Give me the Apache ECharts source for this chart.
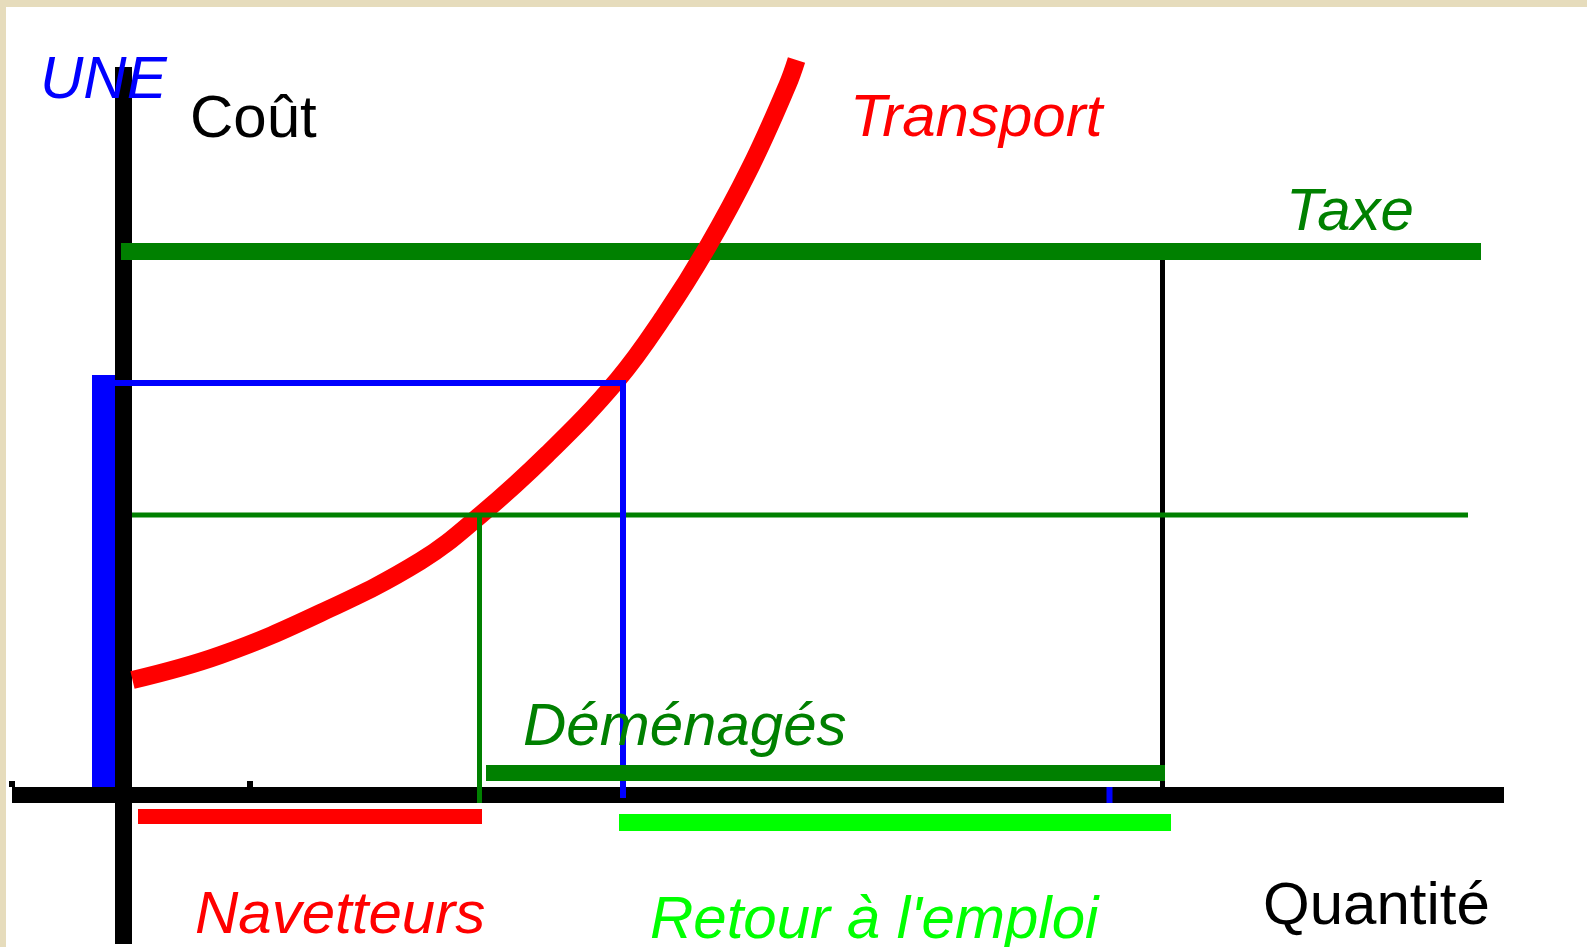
<!DOCTYPE html>
<html>
<head>
<meta charset="utf-8">
<script src="https://cdn.jsdelivr.net/npm/echarts@6/dist/echarts.min.js"></script>
<style>
  html, body { margin: 0; padding: 0; background: #e6dcbc; }
  #chart { width: 1587px; height: 947px; }
</style>
</head>
<body>
<div id="chart"></div>
<script>
// unités du schéma : origine = croisement des axes, 1 unité = 10 px
// courbe du coût de transport (quantité, coût)
const transport = [
  [0.9, 11.5], [9.7, 14.0], [19.7, 18.2], [29.7, 23.4], [35.7, 28.0],
  [42.4, 34.1], [49.4, 41.5], [54.0, 47.8], [58.4, 54.8], [62.7, 62.8],
  [66.4, 71.0], [67.3, 73.5]
]
// niveaux
const taxeLevel = 54.35        // ligne Taxe
const navetteLevel = 28.0      // seuil des navetteurs
const uneLevel = 41.2          // niveau UNE (rectangle bleu)
// quantités
const qNavette = 35.6
const qUne = 49.95
const qTaxe = 103.9
// segments [début, fin]
const axeX = [[-11.15, 0], [138.05, 0]]
const axeY = [[0, 72.8], [0, -14.9]]
const taxe = [[-0.25, taxeLevel], [135.75, taxeLevel]]
const seuilNavette = [[0.85, navetteLevel], [134.45, navetteLevel]]
const verticaleNavette = [[qNavette, navetteLevel], [qNavette, -0.8]]
const verticaleTaxe = [[qTaxe, taxeLevel - 0.8], [qTaxe, 0.8]]
const uneHoriz = [[-0.85, uneLevel], [50.25, uneLevel]]
const uneVert = [[qUne, uneLevel + 0.3], [qUne, -0.3]]
const uneBarre = [[-2.0, 42.0], [-2.0, 0.8]]
const demenages = [[36.25, 2.2], [104.15, 2.2]]
const navetteurs = [[1.45, -2.15], [35.85, -2.15]]
const retourEmploi = [[49.55, -2.75], [104.75, -2.75]]
const petitsTraits = [
  [[12.65, 1.4], [12.65, 0.8]],
  [[-11.15, 1.4], [-11.15, 0.8]]
]
const repereBleu = [[98.6, 0.8], [98.6, -0.8]]

const textes = [
  { t: 'UNE', x: 40, y: 81, c: '#0000ff', it: true },
  { t: 'Coût', x: 190, y: 120, c: '#000000', it: false },
  { t: 'Transport', x: 850, y: 119, c: '#ff0000', it: true },
  { t: 'Taxe', x: 1286, y: 213, c: '#008000', it: true },
  { t: 'Déménagés', x: 523, y: 728, c: '#008000', it: true },
  { t: 'Navetteurs', x: 195, y: 916, c: '#ff0000', it: true },
  { t: "Retour à l'emploi", x: 650, y: 921, c: '#00ff00', it: true },
  { t: 'Quantité', x: 1263, y: 907, c: '#000000', it: false }
]

function seg(name, data, color, width) {
  return {
    name: name,
    type: 'line',
    data: data,
    symbol: 'none',
    silent: true,
    lineStyle: { color: color, width: width, cap: 'butt' }
  }
}

const charts = echarts.init(document.getElementById('chart'))
const option = {
  animation: false,
  backgroundColor: '#e6dcbc',
  grid: {
    show: true,
    backgroundColor: '#ffffff',
    borderWidth: 0,
    left: 6, top: 7, right: 0, bottom: 0
  },
  xAxis: { type: 'value', min: -11.75, max: 146.35, show: false },
  yAxis: { type: 'value', min: -15.2, max: 78.8, show: false },
  series: [
    seg('axeX', axeX, '#000000', 16),
    seg('axeY', axeY, '#000000', 17),
    seg('petit1', petitsTraits[0], '#000000', 6),
    seg('petit2', petitsTraits[1], '#000000', 6),
    seg('verticaleTaxe', verticaleTaxe, '#000000', 5),
    seg('taxe', taxe, '#008000', 17),
    {
      name: 'Transport',
      type: 'line',
      data: transport,
      smooth: 0.4,
      symbol: 'none',
      silent: true,
      lineStyle: { color: '#ff0000', width: 18, cap: 'butt' }
    },
    seg('seuilNavette', seuilNavette, '#008000', 5),
    seg('verticaleNavette', verticaleNavette, '#008000', 5),
    seg('uneHoriz', uneHoriz, '#0000ff', 6),
    seg('uneVert', uneVert, '#0000ff', 6),
    seg('uneBarre', uneBarre, '#0000ff', 23),
    seg('repereBleu', repereBleu, '#0000ff', 6),
    seg('demenages', demenages, '#008000', 16),
    seg('navetteurs', navetteurs, '#ff0000', 15),
    seg('retourEmploi', retourEmploi, '#00ff00', 17)
  ],
  graphic: textes.map(function (d) {
    return {
      type: 'text',
      x: d.x,
      y: d.y,
      z: 100,
      style: {
        text: d.t,
        fill: d.c,
        fontSize: 60,
        fontFamily: '"Liberation Sans", Arial, sans-serif',
        fontStyle: d.it ? 'italic' : 'normal',
        verticalAlign: 'middle',
        align: 'left'
      }
    }
  })
}
charts.setOption(option)
</script>
</body>
</html>
